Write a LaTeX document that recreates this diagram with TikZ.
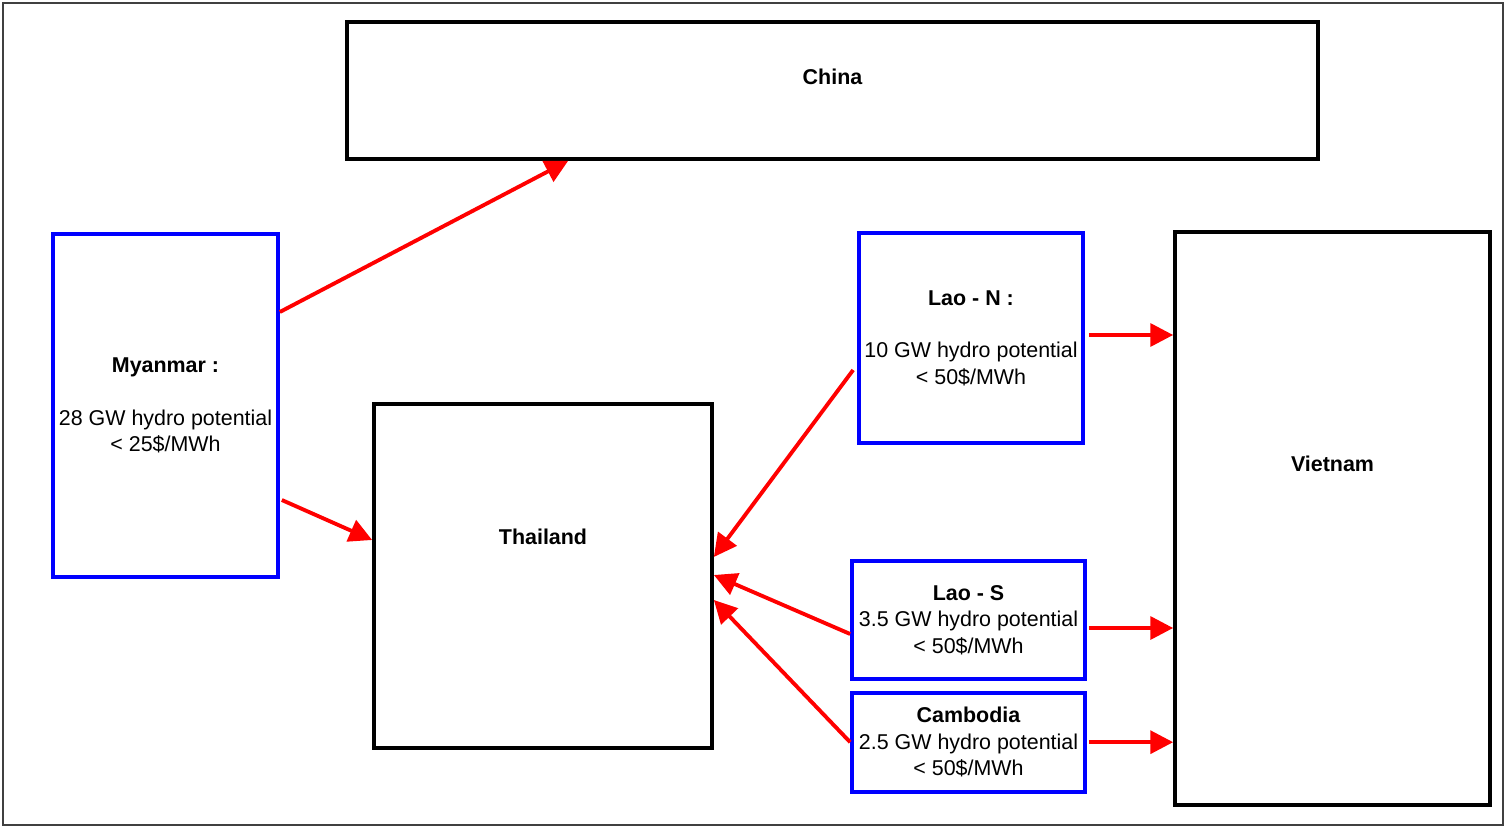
\documentclass[tikz,border=0pt]{standalone}
\usepackage{fontspec}
\setmainfont{Liberation Sans}
\usetikzlibrary{arrows.meta,positioning,calc}

\begin{document}
\begin{tikzpicture}[x=0.02cm, y=-0.02cm,
  country/.style={rectangle, draw=black, line width=2.1pt, inner sep=0pt},
  hydro/.style={rectangle, draw=blue, line width=2.1pt, inner sep=0pt, align=center,
                font=\fontsize{12.2}{15}\selectfont},
  lbl/.style={font=\fontsize{12.2}{15}\selectfont\bfseries},
  flow/.style={draw=red, line width=2.2pt, -{Triangle[length=13pt,width=13pt]}}]
\useasboundingbox (0,0) rectangle (1506,827);
\draw [line width=1.3pt, black!75] (3,3) rectangle (1503,825);

\node [country, minimum width=971*0.02cm, minimum height=137*0.02cm] (china) at (832.5,90.5) {};
\node [lbl] (china-lbl) at (832.5,77) {China};
\node [country, minimum width=338*0.02cm, minimum height=344*0.02cm] (thai) at (543,576) {};
\node [lbl] (thai-lbl) at (543,537) {Thailand};
\node [country, minimum width=315*0.02cm, minimum height=573*0.02cm] (viet) at (1332.5,518.5) {};
\node [lbl] (viet-lbl) at (1332.5,464) {Vietnam};

\node [hydro, minimum width=225*0.02cm, minimum height=343*0.02cm] (myan) at (165.5,405.5)
  {\textbf{Myanmar :}\\[15pt]28 GW hydro potential\\ < 25\$/MWh};
\node [hydro, minimum width=224*0.02cm, minimum height=210*0.02cm] (laon) at (971,338)
  {\textbf{Lao - N :}\\[15pt]10 GW hydro potential\\ < 50\$/MWh};
\node [hydro, minimum width=233*0.02cm, minimum height=118*0.02cm] (laos) at (968.5,620)
  {\textbf{Lao - S}\\ 3.5 GW hydro potential\\ < 50\$/MWh};
\node [hydro, minimum width=233*0.02cm, minimum height=99*0.02cm] (camb) [below=0.2cm of laos]
  {\textbf{Cambodia}\\ 2.5 GW hydro potential\\ < 50\$/MWh};

\coordinate (laon-out) at ($(laon.east)+(4,-3)$);
\coordinate (laos-out) at ($(laos.east)+(2,8)$);
\coordinate (camb-out) at ($(camb.east)+(2,0)$);

% exports
\draw [flow] ($(myan.east)+(0,-93.5)$) -- ($(china.south west)+(223,0)$);
\draw [flow] ($(myan.east)+(2,94.5)$) -- ($(thai.west)+(0,-36)$);
\draw [flow] ($(laon.west)+(-4,32)$) -- ($(thai.east)+(0,-19)$);
\draw [flow] ($(laos.west)+(0,14)$) -- ($(thai.east)+(0,-1)$);
\draw [flow] (camb.west) -- ($(thai.east)+(0,24)$);
\draw [flow] (laon-out) -- (laon-out -| viet.west);
\draw [flow] (laos-out) -- (laos-out -| viet.west);
\draw [flow] (camb-out) -- (camb-out -| viet.west);
\end{tikzpicture}
\end{document}
